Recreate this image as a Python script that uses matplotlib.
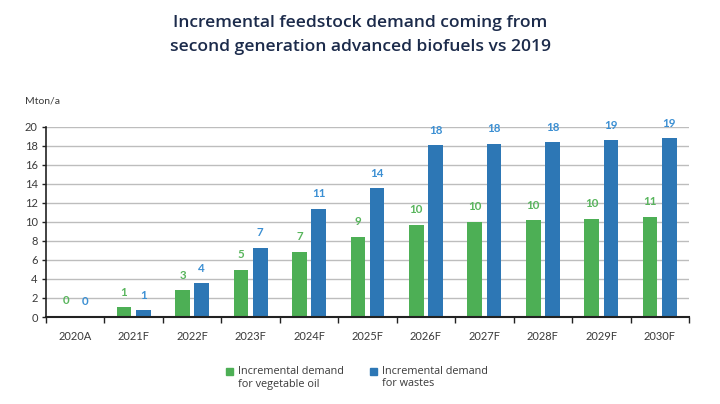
import matplotlib
matplotlib.use("Agg")
import matplotlib.pyplot as plt
import numpy as np
from matplotlib.patches import Rectangle

categories = ["2020A", "2021F", "2022F", "2023F", "2024F", "2025F",
              "2026F", "2027F", "2028F", "2029F", "2030F"]
veg_oil = [0.15, 1.02, 2.8, 4.95, 6.87, 8.42, 9.68, 10.0, 10.18, 10.35, 10.53]
wastes = [0.05, 0.7, 3.55, 7.3, 11.4, 13.55, 18.03, 18.2, 18.38, 18.6, 18.77]
veg_labels = ["0", "1", "3", "5", "7", "9", "10", "10", "10", "10", "11"]
waste_labels = ["0", "1", "4", "7", "11", "14", "18", "18", "18", "19", "19"]
yticks = [0, 2, 4, 6, 8, 10, 12, 14, 16, 18, 20]

GREEN = "#4DAF55"
BLUE = "#2D77B5"
GREEN_TXT = "#58B55C"
BLUE_TXT = "#3B8FD3"
NAVY = "#1C2B4B"
TXT = "#3A3A3A"

plt.rcParams['font.family'] = ['Lato', 'DejaVu Sans']

fig = plt.figure(figsize=(7.2, 4.04), dpi=100)
W, H = 720, 404
ax = fig.add_axes([46 / W, 1 - 317 / H, (689 - 46) / W, (317 - 126.7) / H])

x = np.arange(len(categories))
bw = 0.25
off = 0.165
ax.bar(x - off, veg_oil, width=bw, color=GREEN, zorder=3)
ax.bar(x + off, wastes, width=bw, color=BLUE, zorder=3)

for xi, v, lab in zip(x, veg_oil, veg_labels):
    ax.annotate(lab, (xi - off, v), xytext=(0, 15), textcoords="offset pixels",
                ha="center", va="center", fontsize=8.3, fontweight="bold", color=GREEN_TXT)
for xi, v, lab in zip(x, wastes, waste_labels):
    ax.annotate(lab, (xi + off, v), xytext=(0, 15), textcoords="offset pixels",
                ha="center", va="center", fontsize=8.3, fontweight="bold", color=BLUE_TXT)

ax.set_xlim(-0.5, len(categories) - 0.5)
ax.set_ylim(0, 20)
ax.set_yticks(yticks)
ax.set_yticklabels([str(t) for t in yticks], fontsize=8, color=TXT)
ax.set_xticks(x)
ax.set_xticklabels(categories, fontsize=8, color=TXT)
ax.set_xticks(np.arange(-0.5, len(categories)), minor=True)
ax.tick_params(axis="x", which="major", length=0, pad=10)
ax.tick_params(axis="x", which="minor", length=4, width=1, direction="out", color="#222222")
ax.tick_params(axis="y", length=3, width=1, color="#222222", pad=3)
ax.grid(axis="y", color="#BDBDBD", linewidth=1, zorder=0)
for s in ["top", "right"]:
    ax.spines[s].set_visible(False)
ax.spines["left"].set_color("#222222")
ax.spines["bottom"].set_color("#222222")
ax.spines["left"].set_linewidth(1.2)
ax.spines["bottom"].set_linewidth(1.5)
ax.spines["bottom"].set_zorder(4)

fig.text(25 / W, 1 - 101 / H, "Mton/a", fontsize=7.5, color=TXT, ha="left", va="center")

TFONT = ['Open Sans', 'DejaVu Sans']
fig.text(0.5, 1 - 23 / H, "Incremental feedstock demand coming from", family=TFONT,
         fontsize=12.6, fontweight="semibold", color=NAVY, ha="center", va="center")
fig.text(0.5, 1 - 47 / H, "second generation advanced biofuels vs 2019", family=TFONT,
         fontsize=12.6, fontweight="semibold", color=NAVY, ha="center", va="center")

# legend
for (sx, col, l1, l2) in [(226, GREEN, "Incremental demand", "for vegetable oil"),
                          (370, BLUE, "Incremental demand", "for wastes")]:
    fig.patches.append(Rectangle((sx / W, 1 - 375 / H), 7 / W, 7 / H,
                                 transform=fig.transFigure, color=col))
    fig.text((sx + 12) / W, 1 - 372 / H, l1, family=TFONT, fontsize=7.8, color=TXT,
             ha="left", va="center")
    fig.text((sx + 12) / W, 1 - 384 / H, l2, family=TFONT, fontsize=7.8, color=TXT,
             ha="left", va="center")

fig.savefig("out.png", dpi=100, facecolor="white")
